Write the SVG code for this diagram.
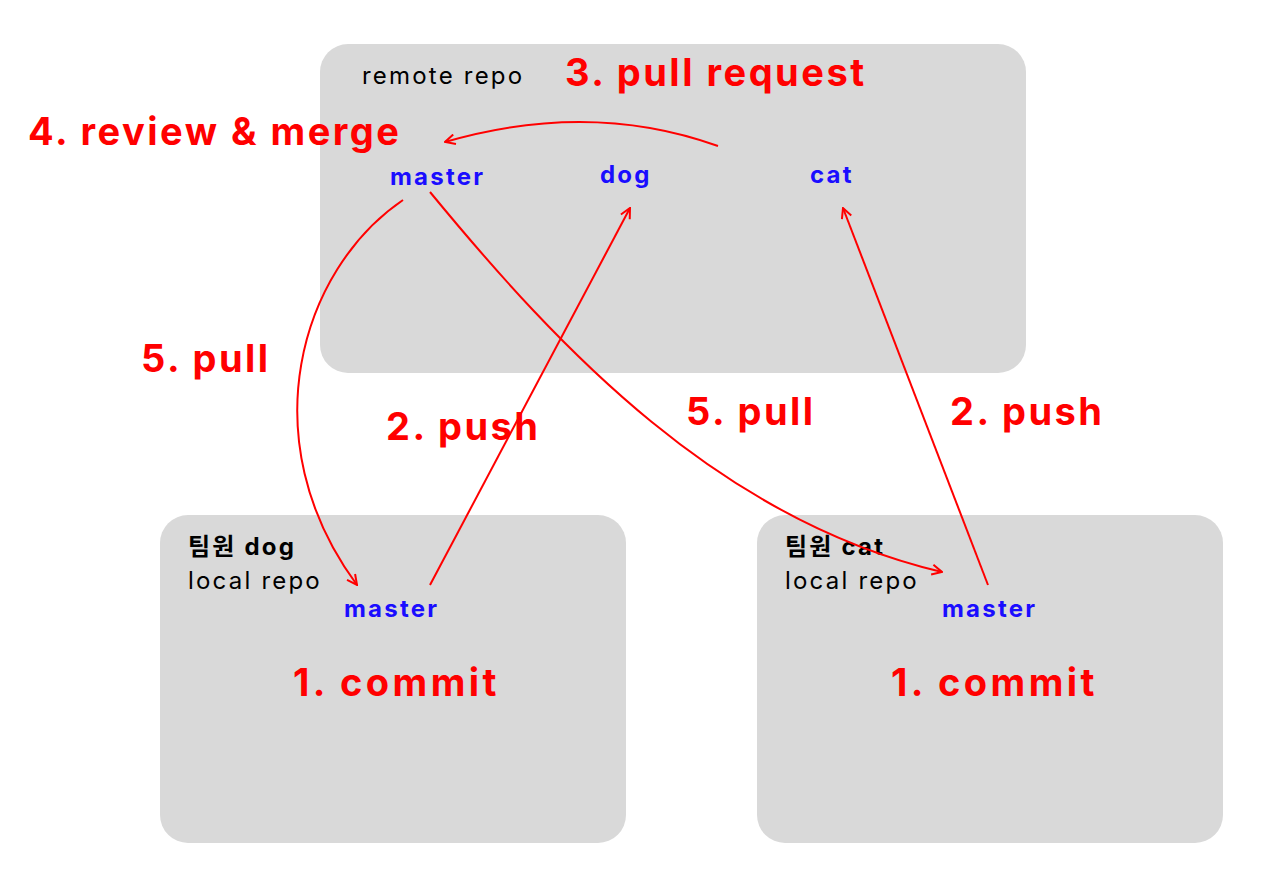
<svg xmlns="http://www.w3.org/2000/svg" width="1280" height="896" viewBox="0 0 1280 896">
<style>
.box{fill:#d9d9d9}
.red{fill:#ff0000;font-family:Inter,"Noto Sans","Noto Sans CJK KR",sans-serif;font-weight:bold;font-size:38px;letter-spacing:2.5px}
.blue{fill:#1a0dff;font-family:Inter,"Noto Sans",sans-serif;font-weight:bold;font-size:24px;letter-spacing:2.2px}
.blk{fill:#000;font-family:Inter,"Noto Sans","Noto Sans CJK KR",sans-serif;font-size:24px;letter-spacing:2.2px}
.b{font-weight:bold}
.ar{fill:none;stroke:#ff0000;stroke-width:2;marker-end:url(#ah)}
</style>
<defs>
<marker id="ah" viewBox="0 0 12 12" refX="11" refY="6" markerWidth="12" markerHeight="12" markerUnits="userSpaceOnUse" orient="auto">
<path d="M1,1 L11,6 L1,11" fill="none" stroke="#ff0000" stroke-width="2"/>
</marker>
</defs>
<rect width="1280" height="896" fill="#fff"/>
<g id="remote">
<rect class="box" x="320" y="44" width="706" height="329" rx="28"/>
<text class="blk" x="362" y="84">remote repo</text>
<text class="blue" x="390" y="185">master</text>
<text class="blue" x="600" y="183">dog</text>
<text class="blue" x="810" y="183">cat</text>
</g>
<g id="localdog">
<rect class="box" x="160" y="515" width="466" height="328" rx="28"/>
<text class="blk b" x="188" y="555">팀원 dog</text>
<text class="blk" x="188" y="589">local repo</text>
<text class="blue" x="344" y="617">master</text>
<text class="red" x="293" y="696" font-size="40" style="letter-spacing:3.4px">1. commit</text>
</g>
<g id="localcat">
<rect class="box" x="757" y="515" width="466" height="328" rx="28"/>
<text class="blk b" x="785" y="555">팀원 cat</text>
<text class="blk" x="785" y="589">local repo</text>
<text class="blue" x="942" y="617">master</text>
<text class="red" x="891" y="696" font-size="40" style="letter-spacing:3.4px">1. commit</text>
</g>
<g id="connectors">
<path class="ar" d="M718,146 Q590,100 445,142"/>
<path class="ar" d="M430,585 L630,208"/>
<path class="ar" d="M988,585 L843,208"/>
<path class="ar" d="M403,200 C300,270 250,440 357,585"/>
<path class="ar" d="M430,192 C560,350 720,520 942,572"/>
</g>
<g id="labels">
<text class="red" x="565" y="86">3. pull request</text>
<text class="red" x="28" y="145">4. review &amp; merge</text>
<text class="red" x="141" y="372">5. pull</text>
<text class="red" x="386" y="440">2. push</text>
<text class="red" x="686" y="425">5. pull</text>
<text class="red" x="950" y="425">2. push</text>
</g>
</svg>
